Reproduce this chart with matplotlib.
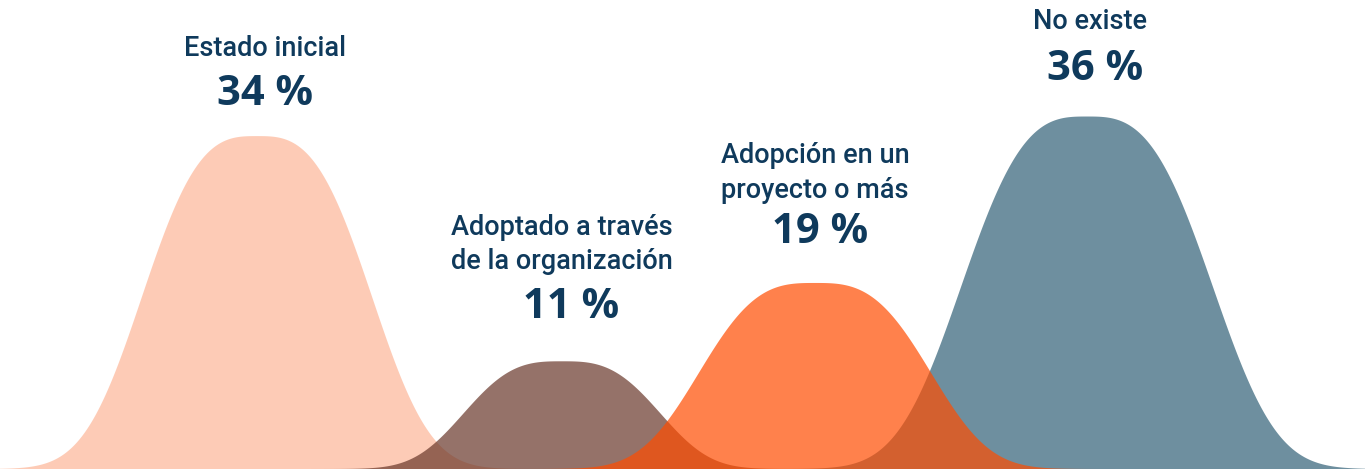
import numpy as np
import matplotlib.pyplot as plt

# datos
etiquetas = ['Estado inicial', 'Adoptado a través\nde la organización',
             'Adopción en un\nproyecto o más', 'No existe']
valores = [34, 11, 19, 36]

# disposición de las campanas (en px del lienzo)
centros = [257, 562, 815, 1087]
anchos = [117, 100, 118, 128]          # media anchura a media altura
colores = ['#FDB698', '#69372A', '#FF4C00', '#316076']
orden = [0, 1, 3, 2]                    # la naranja queda encima
texto_color = '#0F3A5C'

plt.rcParams['font.family'] = ['Roboto', 'DejaVu Sans']

fig = plt.figure(figsize=(13.65, 4.69), dpi=100)
ax = fig.add_axes([0, 0, 1, 1])
ax.set_xlim(0, 1365)
ax.set_ylim(0, 47.9)
ax.axis('off')

x = np.linspace(0, 1365, 2000)
for i in orden:
    d = np.abs(x - centros[i]) / anchos[i]
    y = valores[i] * np.exp(-np.log(2) * d ** 3)
    ax.fill_between(x, 0, y, color=colores[i], alpha=0.7, linewidth=0)

# desplazamientos de los textos respecto al pico (px)
off_pct = [42, 54, 50, 47]
off_lab = [88, 117, 110, 95]
dx_pct = [8, 9, 5, 8]
dx_lab = [8, 0, 0, 3]
for i, (lab, v) in enumerate(zip(etiquetas, valores)):
    ax.annotate(f'{v} %', xy=(centros[i], v), xytext=(dx_pct[i], off_pct[i]),
                textcoords='offset pixels', ha='center', va='center',
                fontsize=30, fontweight='bold', color=texto_color,
                family=['Open Sans', 'Roboto', 'DejaVu Sans'])
    ax.annotate(lab, xy=(centros[i], v), xytext=(dx_lab[i], off_lab[i]),
                textcoords='offset pixels', ha='center', va='center',
                fontsize=19.5, fontweight='medium', color=texto_color,
                linespacing=1.35)

fig.savefig('out.png', dpi=100)
